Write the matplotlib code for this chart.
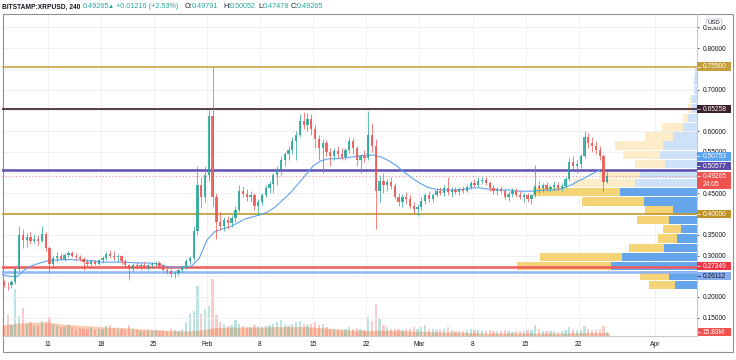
"""
XRPUSD 4h-style chart (Bitstamp) with volume, moving average,
horizontal levels and a visible-range volume profile.
"""

import numpy as np
import pandas as pd
import matplotlib

matplotlib.use("Agg")
import matplotlib.pyplot as plt
import matplotlib.dates as mdates
from matplotlib.patches import Rectangle
from matplotlib.transforms import blended_transform_factory

plt.rcParams["font.family"] = ["Liberation Sans", "DejaVu Sans"]

W, H = 736, 360
START = "2021-01-05"
UP = "#26a69a"
DOWN = "#ef5350"
TEXT = "#131722"

# 12h candles from Jan 5 2021
opens = [
    .235, .230, .228, .236, .268, .350, .338, .345, .336, .340,
    .335, .352, .318, .280, .295, .300, .292, .302, .306, .300,
    .296, .292, .285, .280, .286, .280, .288, .295, .304, .300,
    .296, .298, .286, .276, .268, .278, .274, .278, .272, .276,
    .280, .282, .274, .266, .262, .255, .258, .265, .272, .286,
    .294, .360, .470, .440, .495, .635, .440, .380, .372, .385,
    .378, .390, .410, .455, .448, .440, .445, .420, .430, .445,
    .462, .472, .495, .505, .530, .545, .555, .575, .590, .625,
    .615, .630, .605, .580, .560, .570, .550, .540, .552, .545,
    .538, .555, .575, .560, .530, .540, .535, .590, .565, .455,
    .480, .470, .478, .468, .442, .430, .440, .435, .420, .412,
    .418, .432, .445, .436, .446, .455, .450, .462, .452, .458,
    .452, .460, .456, .466, .475, .470, .480, .482, .475, .462,
    .455, .460, .455, .442, .448, .455, .446, .440, .445, .435,
    .445, .468, .462, .470, .460, .465, .470, .462, .468, .485,
    .525, .515, .520, .540, .585, .570, .565, .555, .540, .478,
]
highs = [
    .240, .236, .240, .272, .372, .365, .355, .356, .352, .350,
    .370, .356, .322, .300, .308, .306, .305, .312, .310, .305,
    .302, .296, .292, .290, .290, .292, .298, .308, .313, .310,
    .304, .302, .292, .280, .282, .285, .282, .284, .280, .284,
    .287, .286, .280, .272, .268, .262, .268, .275, .292, .300,
    .370, .515, .490, .515, .650, .755, .450, .405, .392, .395,
    .398, .420, .470, .468, .460, .455, .450, .435, .450, .470,
    .480, .500, .515, .540, .550, .565, .585, .600, .640, .645,
    .643, .640, .615, .590, .580, .578, .558, .560, .565, .560,
    .560, .585, .582, .565, .545, .555, .648, .620, .580, .495,
    .500, .485, .490, .475, .450, .448, .452, .445, .430, .425,
    .440, .450, .455, .450, .462, .465, .470, .490, .465, .466,
    .465, .468, .470, .480, .485, .488, .490, .488, .480, .470,
    .465, .468, .460, .455, .462, .462, .455, .450, .450, .448,
    .518, .480, .475, .478, .470, .480, .478, .475, .490, .535,
    .540, .530, .545, .600, .595, .585, .575, .565, .545, .50052,
]
lows = [
    .225, .218, .222, .232, .262, .318, .320, .328, .330, .326,
    .332, .310, .258, .270, .285, .288, .286, .296, .296, .290,
    .286, .265, .275, .274, .276, .276, .282, .290, .295, .288,
    .284, .280, .272, .241, .262, .268, .266, .270, .266, .270,
    .274, .270, .262, .256, .248, .246, .254, .260, .268, .280,
    .290, .350, .415, .430, .480, .420, .340, .362, .360, .365,
    .368, .380, .405, .440, .432, .430, .410, .398, .422, .440,
    .450, .450, .470, .495, .515, .530, .545, .530, .585, .605,
    .600, .590, .560, .530, .500, .540, .515, .530, .535, .530,
    .530, .548, .545, .515, .500, .525, .530, .550, .365, .430,
    .450, .455, .460, .435, .420, .418, .425, .415, .400, .395,
    .410, .425, .428, .430, .440, .445, .444, .445, .440, .448,
    .446, .450, .452, .460, .465, .466, .472, .470, .455, .448,
    .445, .450, .435, .432, .440, .440, .435, .430, .428, .425,
    .440, .450, .452, .455, .452, .458, .458, .455, .462, .480,
    .505, .500, .510, .535, .560, .550, .545, .530, .455, .47478,
]
closes = [
    .230, .228, .236, .268, .350, .338, .345, .336, .340, .335,
    .352, .318, .280, .295, .300, .292, .302, .306, .300, .296,
    .292, .285, .280, .286, .280, .288, .295, .304, .300, .296,
    .298, .286, .276, .268, .278, .274, .278, .272, .276, .280,
    .282, .274, .266, .262, .255, .258, .265, .272, .286, .294,
    .360, .470, .440, .495, .635, .440, .380, .372, .385, .378,
    .390, .410, .455, .448, .440, .445, .420, .430, .445, .462,
    .472, .495, .505, .530, .545, .555, .575, .590, .625, .615,
    .630, .605, .580, .560, .570, .550, .540, .552, .545, .538,
    .555, .575, .560, .530, .540, .535, .590, .565, .455, .480,
    .470, .478, .468, .442, .430, .440, .435, .420, .412, .418,
    .432, .445, .436, .446, .455, .450, .462, .452, .458, .452,
    .460, .456, .466, .475, .470, .480, .482, .475, .462, .455,
    .460, .455, .442, .448, .455, .446, .440, .445, .435, .445,
    .468, .462, .470, .460, .465, .470, .462, .468, .485, .525,
    .515, .520, .540, .585, .570, .565, .555, .540, .478, .49265,
]
# volume per bar, millions
volumes = [
    40, 85, 45, 190, 80, 115, 50, 55, 45, 40,
    60, 55, 75, 50, 40, 35, 38, 45, 35, 30,
    32, 30, 28, 35, 25, 28, 30, 40, 45, 32,
    28, 30, 26, 45, 30, 25, 22, 20, 24, 22,
    26, 20, 24, 22, 30, 24, 22, 30, 55, 90,
    100, 200, 90, 110, 120, 230, 85, 55, 50, 40,
    45, 65, 50, 40, 38, 35, 45, 40, 35, 40,
    45, 50, 55, 65, 50, 45, 50, 55, 60, 50,
    45, 50, 55, 45, 50, 35, 30, 28, 30, 26,
    30, 35, 28, 32, 30, 26, 75, 60, 130, 70,
    45, 35, 30, 28, 30, 25, 28, 30, 35, 30,
    35, 45, 30, 28, 26, 25, 28, 35, 24, 22,
    20, 22, 24, 28, 25, 26, 24, 22, 25, 22,
    20, 22, 24, 20, 18, 20, 22, 20, 24, 26,
    45, 30, 22, 20, 22, 20, 18, 20, 26, 38,
    28, 25, 26, 40, 30, 26, 24, 28, 40, 15.83,
]
# moving average, one reading per day (00:00)
ma_values = [
    .254, .250, .249, .266, .276, .282, .287, .289, .290, .290,
    .289, .288, .287, .284, .284, .284, .284, .283, .282, .282,
    .281, .277, .272, .272, .272, .275, .294, .337, .357, .364,
    .369, .378, .388, .393, .398, .405, .417, .434, .451, .472,
    .494, .516, .528, .533, .533, .535, .537, .540, .542, .542,
    .537, .528, .516, .501, .487, .475, .465, .460, .458, .458,
    .458, .460, .463, .463, .460, .458, .458, .458, .455, .455,
    .455, .457, .458, .458, .463, .470, .480, .489, .499, .5075,
]
# volume moving average, one reading every two days
vol_ma_values = [
    44, 52, 56, 56, 48, 44, 40, 36, 34, 30,
    26, 22, 20, 24, 34, 36, 36, 36, 38, 38,
    38, 34, 28, 24, 22, 24, 22, 20, 18, 16,
    16, 14, 12, 12, 12, 12, 12, 12, 14, 14, 14,
]

# visible range volume profile, 24 rows from bottom to top
vp_down = [260, 290, 940, 820, 350, 190, 180, 320, 280, 620, 870, 620,
           400, 300, 370, 480, 280, 210, 50, 40, 20, 0, 0, 0]
vp_up = [220, 280, 860, 750, 330, 200, 160, 280, 240, 530, 770, 620,
         570, 320, 370, 340, 240, 140, 90, 50, 50, 30, 30, 15]
VA_ROWS = (0, 10)

# horizontal levels
levels = [0.755, 0.65258, 0.50577, 0.40, 0.27349, 0.26112]
level_colors = ["#c9a547", "#3b1f2b", "#5e4fb0", "#c39a2e", "#f05a5a", "#90b5f2"]
level_widths = [1.2, 1.2, 1.8, 1.2, 1.8, 1.8]
LAST = 0.49265
MA_LAST = 0.50753

price_ticks = np.arange(0.15, 0.851, 0.05)
# tick labels left visible (the others sit under the price tags)
shown_ticks = [0.15, 0.20, 0.30, 0.35, 0.45, 0.55, 0.60, 0.70, 0.80, 0.85]
tick_dates = ["2021-01-11", "2021-01-18", "2021-01-25", "2021-02-01",
              "2021-02-08", "2021-02-15", "2021-02-22", "2021-03-01",
              "2021-03-08", "2021-03-15", "2021-03-22", "2021-04-01"]

# ---------------------------------------------------------------
o, h, l, c = map(np.array, (opens, highs, lows, closes))
t0 = mdates.date2num(pd.Timestamp(START))
t = mdates.date2num(pd.date_range(START, periods=len(c), freq="12h")) + 0.25
ma_t = t0 + np.arange(len(ma_values))
vma_t = t0 + 2 * np.arange(len(vol_ma_values))
XLIM = (t0, t0 + 91.57)
YLIM = (0.106, 0.882)

fig = plt.figure(figsize=(W / 100, H / 100), dpi=100)
pos = [2 / W, 1 - 336 / H, 695 / W, 322 / H]
ax_v = fig.add_axes(pos, zorder=0)
ax_vp = fig.add_axes(pos, zorder=1)
ax = fig.add_axes(pos, zorder=2)
ax_vp.patch.set_alpha(0)
ax.patch.set_alpha(0)

# volume pane
up = c >= o
ax_v.set_xlim(XLIM)
ax_v.set_ylim(0, 1300)
for d in tick_dates:
    ax_v.axvline(mdates.date2num(pd.Timestamp(d)), color="#eef0f4", lw=0.7, zorder=0)
ax_v.fill_between(vma_t, 0, vol_ma_values, color="#f7a072", alpha=0.55, lw=0, zorder=1)
ax_v.bar(t, volumes, width=0.3, color=np.where(up, UP, DOWN), alpha=0.3, zorder=2)
ax_v.axis("off")

# volume profile
ax_vp.set_ylim(YLIM)
for p in price_ticks:
    ax_vp.axhline(p, color="#eef0f4", lw=0.7, zorder=0)
vp_lo, vp_hi = l.min(), h.max()
step = (vp_hi - vp_lo) / len(vp_up)
rows = vp_lo + step * (np.arange(len(vp_up)) + 0.5)
vu, vd = np.array(vp_up), np.array(vp_down)
ax_vp.set_xlim((vu + vd).max() / 0.259, 0)
idx = np.arange(len(rows))
in_va = (idx >= VA_ROWS[0]) & (idx <= VA_ROWS[1])
ax_vp.barh(rows, vu, height=step * 0.9, left=0,
           color=np.where(in_va, "#64a5eb", "#cde2f8"), lw=0, zorder=2)
ax_vp.barh(rows, vd, height=step * 0.9, left=vu,
           color=np.where(in_va, "#f5d478", "#fcecc8"), lw=0, zorder=2)
ax_vp.axis("off")

# price pane
ax.set_xlim(XLIM)
ax.set_ylim(YLIM)
for p, col, lw in zip(levels, level_colors, level_widths):
    ax.axhline(p, color=col, lw=lw, zorder=3)
ax.axhline(LAST, color=DOWN, lw=0.8, ls=(0, (1, 2)), alpha=0.6, zorder=3)
ax.plot(ma_t, ma_values, color="#5ea4ef", lw=0.8, zorder=4)

cols = np.where(up, UP, DOWN)
ax.vlines(t, l, h, colors=cols, lw=0.6, alpha=0.85, zorder=5)
body = np.maximum(np.abs(c - o), 0.002)
ax.bar(t, body, bottom=np.minimum(o, c), width=0.3, color=cols, alpha=0.85, lw=0, zorder=6)

ax.set_xticks([mdates.date2num(pd.Timestamp(d)) for d in tick_dates])
ax.set_xticklabels([pd.Timestamp(d).strftime("%b") if pd.Timestamp(d).day == 1
                    else str(pd.Timestamp(d).day) for d in tick_dates])
ax.tick_params(axis="x", length=0, pad=3.5, labelsize=4.8, colors=TEXT)
ax.yaxis.tick_right()
ax.set_yticks(shown_ticks)
ax.set_yticklabels([f"{p:.5f}" for p in shown_ticks])
ax.tick_params(axis="y", length=1.5, width=0.5, pad=2.5, labelsize=4.8, colors=TEXT)
for side in ("top", "left"):
    ax.spines[side].set_visible(False)
for side in ("right", "bottom"):
    ax.spines[side].set_color("#c8cad0")
    ax.spines[side].set_linewidth(0.8)

# price tags on the axis (dy_px > 0 moves a tag up)
ppu = 322 / (YLIM[1] - YLIM[0])
trans = blended_transform_factory(ax.transAxes, ax.transData)


def tag(axis, tr, y, lines, fc, tc="white", dy_px=0.0, scale=ppu):
    yc = y + dy_px / scale
    hh = 8.5 / scale
    axis.add_patch(Rectangle((1.0, yc - hh / 2 - (len(lines) - 1) * hh), 34 / 695,
                             hh * len(lines), transform=tr, fc=fc, ec="none",
                             clip_on=False, zorder=10))
    axis.plot([1.0, 1.0 + 3 / 695], [yc, yc], transform=tr, color=tc, lw=0.5,
              clip_on=False, zorder=11)
    for i, s in enumerate(lines):
        axis.text(1.0 + 6 / 695, yc - i * hh, s, transform=tr, va="center", ha="left",
                  fontsize=4.8, color=tc, clip_on=False, zorder=11)


tag(ax, trans, 0.755, ["0.75500"], "#c59d3c")
tag(ax, trans, 0.65258, ["0.65258"], "#3c1f2c")
tag(ax, trans, MA_LAST, [f"{MA_LAST:.5f}"], "#5aa3f0", dy_px=13.0)
tag(ax, trans, 0.50577, ["0.50577"], "#5b4aa8", dy_px=4.0)
tag(ax, trans, LAST, [f"{LAST:.5f}", "24:05"], "#ef5350", dy_px=-0.5)
tag(ax, trans, 0.40, ["0.40000"], "#bf9226")
tag(ax, trans, 0.27349, ["0.27349"], "#f23645", dy_px=0.5)
tag(ax, trans, 0.26112, ["0.26112"], "#86abef", tc=TEXT, dy_px=-4.5)
vtrans = blended_transform_factory(ax_v.transAxes, ax_v.transData)
tag(ax_v, vtrans, volumes[-1], [f"{volumes[-1]:.2f}M"], "#ef5350",
    scale=322 / 1300)

fig.text(714 / W, 1 - 23 / H, "USD", fontsize=4.3, color=TEXT, ha="center", va="center",
         bbox=dict(boxstyle="round,pad=0.25", fc="white", ec="#b2b5be", lw=0.5),
         zorder=12)

# outer frame
fig.patches.append(Rectangle((3 / W, 1 - 352 / H), 730 / W, 338 / H, transform=fig.transFigure,
                             fill=False, ec="#8d9099", lw=0.8))

# header line
header = [
    (2, "BITSTAMP:XRPUSD, 240", TEXT, "bold", 4.8),
    (83, "0.49265", UP, "normal", 5.2),
    (108, "\u25b2", UP, "normal", 4.4),
    (116, "+0.01216 (+2.53%)", UP, "normal", 5.2),
    (185, "O:", TEXT, "normal", 5.2),
    (192, "0.49791", UP, "normal", 5.2),
    (223, "H:", TEXT, "normal", 5.2),
    (230, "0.50052", UP, "normal", 5.2),
    (258, "L:", TEXT, "normal", 5.2),
    (263, "0.47478", UP, "normal", 5.2),
    (291, "C:", TEXT, "normal", 5.2),
    (297, "0.49265", UP, "normal", 5.2),
]
for x, s, col, wt, fs in header:
    fig.text(x / W, 1 - 7 / H, s, fontsize=fs, color=col, fontweight=wt,
             ha="left", va="center")

fig.savefig("out.png", dpi=100, facecolor="white")
plt.close(fig)
